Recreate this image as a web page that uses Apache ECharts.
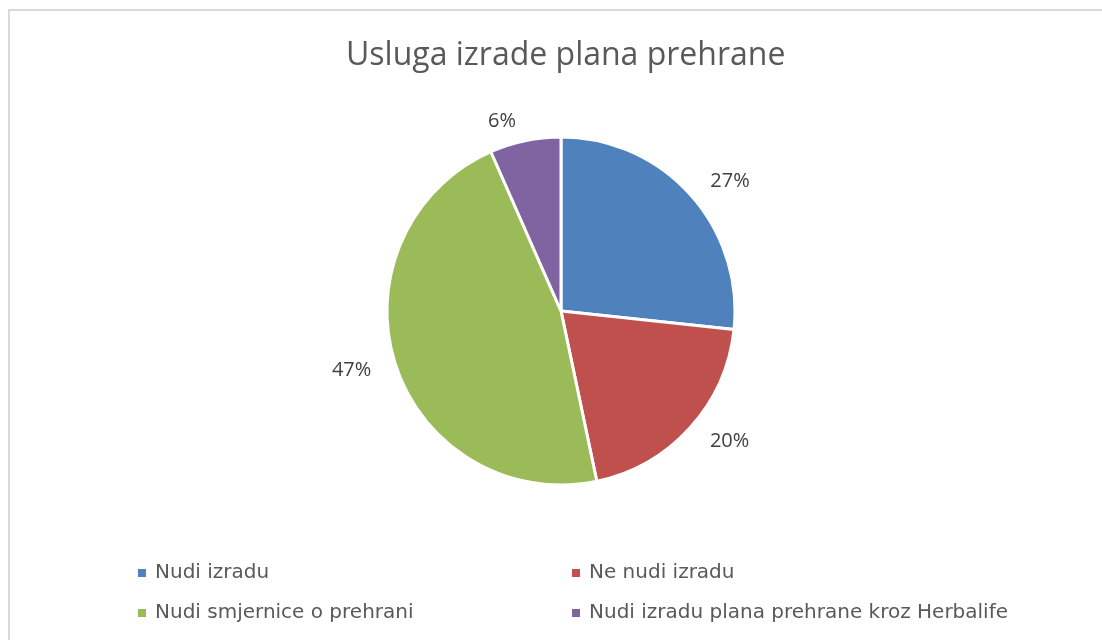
<!DOCTYPE html>
<html>
<head>
<meta charset="utf-8">
<title>Usluga izrade plana prehrane</title>
<script src="https://cdn.jsdelivr.net/npm/echarts@6/dist/echarts.min.js"></script>
<style>
  html, body { margin: 0; padding: 0; background: #fff; }
  #chart { width: 1102px; height: 640px; }
</style>
</head>
<body>
<div id="chart"></div>
<script>
const categories = ['Nudi izradu', 'Ne nudi izradu', 'Nudi smjernice o prehrani', 'Nudi izradu plana prehrane kroz Herbalife'];
const shares = [26.7, 20, 46.7, 6.6];
const colors = ['#4f81bd', '#c0504d', '#9bbb59', '#8064a2'];

const chart = echarts.init(document.querySelector('#chart'));

const FONT = '"Open Sans", "Noto Sans", sans-serif';

const legendBase = {
  orient: 'vertical',
  top: 563,
  padding: 0,
  icon: 'rect',
  itemWidth: 10,
  itemHeight: 10,
  itemGap: 20,
  selectedMode: false,
  textStyle: {
    fontFamily: '"DejaVu Sans", sans-serif',
    fontSize: 20,
    lineHeight: 20,
    color: '#595959',
    padding: [0, 0, 0, 3],
  },
};

const option = {
  backgroundColor: '#fff',
  animation: false,
  color: colors,
  title: {
    text: 'Usluga izrade plana prehrane',
    left: 341,
    top: 35,
    textStyle: {
      fontFamily: FONT,
      fontSize: 32,
      fontWeight: 'normal',
      color: '#595959',
    },
  },
  graphic: [
    {
      type: 'rect',
      shape: { x: 9, y: 10, width: 1200, height: 700 },
      style: { fill: 'none', stroke: '#d9d9d9', lineWidth: 2 },
      silent: true,
    },
  ],
  legend: [
    { ...legendBase, left: 136, data: [categories[0], categories[2]] },
    { ...legendBase, left: 570, data: [categories[1], categories[3]] },
  ],
  series: [
    {
      type: 'pie',
      center: [561, 311],
      radius: 174,
      startAngle: 90,
      clockwise: true,
      percentPrecision: 0,
      itemStyle: { borderColor: '#fff', borderWidth: 3 },
      label: {
        position: 'outside',
        formatter: '{d}%',
        fontFamily: FONT,
        fontSize: 20,
        color: '#404040',
      },
      labelLine: { show: false, length: 20, length2: 0 },
      emphasis: { disabled: true },
      data: categories.map((name, i) => ({ name, value: shares[i] })),
    },
  ],
};

chart.setOption(option);

window.addEventListener('resize', () => chart.resize());
</script>
</body>
</html>
